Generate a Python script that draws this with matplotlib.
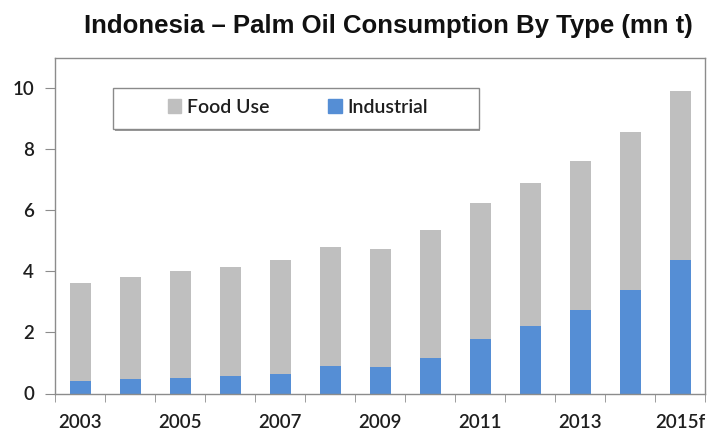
import numpy as np
import matplotlib
matplotlib.use("Agg")
import matplotlib.pyplot as plt
from matplotlib.patches import Rectangle, Patch

# ── Datos (mn t) ──────────────────────────────────────────────────────────────
years = ["2003", "2004", "2005", "2006", "2007", "2008", "2009",
         "2010", "2011", "2012", "2013", "2014", "2015f"]
total = [3.62, 3.83, 4.00, 4.16, 4.36, 4.79, 4.74,
         5.36, 6.23, 6.91, 7.63, 8.57, 9.91]
industrial = [0.40, 0.46, 0.51, 0.57, 0.65, 0.90, 0.87,
              1.17, 1.79, 2.20, 2.75, 3.38, 4.38]
food_use = [t - i for t, i in zip(total, industrial)]

COLORS = {
    "food": "#BFBFBF",
    "industrial": "#558ED5",
    "spine": "#8C8C8C",
    "text": "#1E1E1E",
}

plt.rcParams["font.family"] = ["Lato", "DejaVu Sans"]

fig = plt.figure(figsize=(7.08, 4.33), dpi=100)
ax = fig.add_axes([55 / 708, 1 - 393.5 / 433, 650 / 708, (393.5 - 57.7) / 433])

x = np.arange(len(years))
ax.bar(x, industrial, width=0.42, color=COLORS["industrial"], label="Industrial")
ax.bar(x, food_use, width=0.42, bottom=industrial, color=COLORS["food"], label="Food Use")

ax.set_xlim(-0.5, len(years) - 0.5)
ax.set_ylim(0, 11)
ax.set_yticks(range(0, 11, 2))

ax.set_xticks(x)
ax.set_xticklabels([y if i % 2 == 0 else "" for i, y in enumerate(years)])
ax.set_xticks(np.arange(-0.5, len(years), 1.0), minor=True)
ax.tick_params(axis="x", which="major", length=0, pad=15)
ax.tick_params(axis="x", which="minor", length=6, color=COLORS["spine"])
ax.tick_params(axis="y", length=7, pad=8, color=COLORS["spine"])
ax.tick_params(labelsize=13.5, labelcolor=COLORS["text"])
for lab in ax.get_xticklabels() + ax.get_yticklabels():
    lab.set_fontweight("semibold")

for s in ax.spines.values():
    s.set_color(COLORS["spine"])
    s.set_linewidth(1.0)

fig.text(388 / 708, 1 - 26 / 433, "Indonesia – Palm Oil Consumption By Type (mn t)",
         ha="center", va="center", fontsize=18.5, fontweight="bold",
         family=["Liberation Sans", "DejaVu Sans"], color="#111111")

# Caja de la leyenda (con sombra ligera abajo/derecha)
fig.patches.append(Rectangle((114.5 / 708, 1 - 130.5 / 433), 366 / 708, 41 / 433,
                             transform=fig.transFigure, facecolor="#9A9A9A",
                             edgecolor="none", zorder=2))
fig.patches.append(Rectangle((113 / 708, 1 - 129 / 433), 366 / 708, 41 / 433,
                             transform=fig.transFigure, facecolor="white",
                             edgecolor="#8A8A8A", linewidth=1.0, zorder=3))
handles = [Patch(color=COLORS["food"], label="Food Use"),
           Patch(color=COLORS["industrial"], label="Industrial")]
leg = fig.legend(handles=handles, loc="center", ncol=2, frameon=False,
                 bbox_to_anchor=(298 / 708, 1 - 107.5 / 433),
                 fontsize=14, handlelength=0.7, handleheight=0.7,
                 handletextpad=0.3, columnspacing=3.0)
leg.set_zorder(4)
for t in leg.get_texts():
    t.set_color(COLORS["text"])
    t.set_fontweight("semibold")

fig.savefig("out.png", dpi=100)
